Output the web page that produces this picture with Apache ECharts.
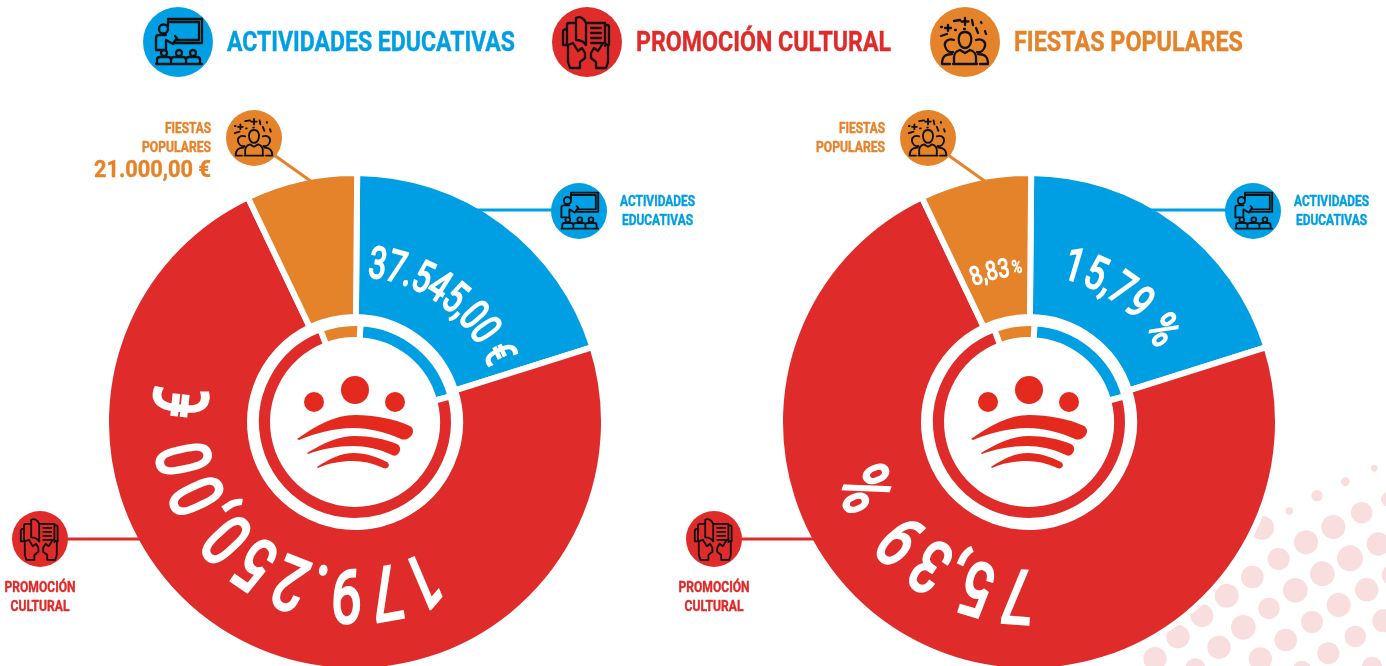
<!DOCTYPE html>
<html>
<head>
<meta charset="utf-8">
<style>html,body{margin:0;padding:0;background:#fff;overflow:hidden}#c{width:1386px;height:666px}</style>
<script src="https://cdn.jsdelivr.net/npm/echarts@6/dist/echarts.min.js"></script>
</head>
<body>
<div id="c"></div>
<script>
// ---- data ----
const categories = ['ACTIVIDADES EDUCATIVAS', 'PROMOCIÓN CULTURAL', 'FIESTAS POPULARES'];
const amounts = [37545, 179250, 21000];        // printed euro amounts
const percents = [15.79, 75.39, 8.83];         // printed percentages
// The artwork's wedges are not to scale with the printed numbers: these shares are read off the drawn wedges.
const drawnShares = [20.0, 72.78, 7.22];
const ringShares = [19.94, 73.48, 6.58];
const colors = ['#009FE3', '#DF2B2A', '#E5832A'];

// ---- layout ----
const R = 246, C = [[355, 422], [1029, 422]], FONT = 'Roboto';
const logoRed = '#E42A1E', START = 89.5, RING_START = 86.8;

const euro = v => v.toFixed(2).replace('.', ',').replace(/\B(?=(\d{3})+(?!\d))/g, '.') + ' €';
const pct = v => v.toFixed(2).replace('.', ',');
const euro0 = euro(amounts[0]), euro1 = euro(amounts[1]), euro2 = euro(amounts[2]);

const ctx = document.createElement('canvas').getContext('2d');
function width(s, f) { ctx.font = f; return ctx.measureText(s).width; }

function txt(s, x, y, size, color, align, fitW) {
  const f = '700 ' + size + 'px ' + FONT;
  const sx = fitW ? fitW / width(s, f) : 1;
  return { type: 'text', z: 20, x, y: y + size * 0.1 + 0.7, scaleX: sx, silent: true,
    style: { text: s, font: f, fill: color, stroke: color, lineWidth: 0.4, align, textAlign: align, verticalAlign: 'middle', textVerticalAlign: 'middle' } };
}

// Text set on an arc: tops outward, reading clockwise. a0/a1 = angle of first/last glyph centre (deg from 12 o'clock)
function arc(s, c, r, a0, a1, size, sx) {
  const f = '400 ' + size + 'px ' + FONT, chars = Array.from(s);
  const adv = chars.map(ch => width(ch, f));
  let pos = [], acc = 0;
  adv.forEach((w, i) => { pos.push(acc + w / 2); acc += w; });
  const first = pos[0], last = pos[pos.length - 1];
  const rr = r - size * 0.1;
  return chars.map((ch, i) => {
    if (ch === ' ') return null;
    const k = last > first ? (pos[i] - first) / (last - first) : 0;
    const t = (a0 + (a1 - a0) * k) * Math.PI / 180;
    return { type: 'text', z: 20, silent: true,
      x: c[0] + rr * Math.sin(t), y: c[1] - 1 - rr * Math.cos(t), rotation: -t, scaleX: sx,
      style: { text: ch, font: f, fill: '#fff', stroke: '#fff', lineWidth: size * 0.042, lineJoin: 'round',
        align: 'center', textAlign: 'center', verticalAlign: 'middle', textVerticalAlign: 'middle' } };
  }).filter(Boolean);
}

// ---- icons (drawn in a 70px box centred on 0,0) ----
const ICON = {
  teacher: 'M-10 -15V-23H24V1H-4M-8 -20H21V-2H-2' +
    'M-10 -13A4.5 4.5 0 1 0 -19 -13A4.5 4.5 0 1 0 -10 -13' +
    'M-12 8V-2L-5 2L-1 -4M-3 -6L-1 -4L-4 0M-12 -7H-19Q-22 -7 -22 -4V8H-12' +
    'M-11 11A3 3 0 1 0 -17 11A3 3 0 1 0 -11 11M4 11A3 3 0 1 0 -2 11A3 3 0 1 0 4 11M18 11A3 3 0 1 0 12 11A3 3 0 1 0 18 11' +
    'M-21 21V18Q-21 15 -18 15H-10Q-7 15 -7 18V21M-7 21V18Q-7 15 -4 15H5Q8 15 8 18V21M8 21V18Q8 15 11 15H19Q22 15 22 18V21' +
    'M-22 22H24',
  book: 'M-1 -19C-3 -24 -7 -26 -11 -24V-2C-7 -2 -3 0 -1 3V-19H18V4' +
    'M-11 -19H-18Q-20 -19 -20 -17V3M-20 -13Q-24 -13 -24 -10V3H-19M18 -17H20Q22 -17 22 -15V3' +
    'M4 -14H14M4 -9H14M4 -4H14M4 1H14' +
    'M-19 3L-14 1L-9 9L-5 6L-2 11V16L-7 20V26H-17L-19 20Z' +
    'M21 3L16 1L11 9L7 6L4 11V16L9 20V26H19L21 20Z',
  people: 'M0 -10C-6 -10 -7 -4 -6 0C-5 4 -3 6 0 6C3 6 5 4 6 0C7 -4 6 -10 0 -10Z' +
    'M-11 22V15C-11 11 -8 9 -5 8L0 11L5 8C8 9 11 11 11 15V22M-12 22H12' +
    'M-11 -2C-17 -4 -21 0 -20 4C-19 8 -16 11 -12 10M11 -2C17 -4 21 0 20 4C19 8 16 11 12 10' +
    'M-13 12C-19 12 -23 14 -23 22H-15M13 12C19 12 23 14 23 22H15' +
    'M-24 -6L-18 -8M-17 -17V-11M-20 -14H-14M-24 -15L-23 -15M-11 -21L-5 -22M-10 -12L-9 -12M0 -24V-17M-3.5 -20.5H3.5M-1 -13L0 -13M7 -22L8 -17M11 -14L13 -9M16 -20L16.5 -19M20 -11L21 -8'
};
const LOGO = [
  'M-58 18C-38 4 -20 -6 0 -6C20 -6 40 -2 55 5C59 7 59 13 55 16C52 19 48 19 46 18C30 11 15 7 -2 7C-20 7 -40 12 -56 19Z',
  'M-48 32C-32 22 -16 15 0 15C15 15 30 18 42 23C46 25 46 30 43 33C41 35 39 35 37 34C25 28 10 25 -2 25C-18 25 -34 28 -47 33Z',
  'M-38 46C-26 38 -14 32 -1 32C11 32 22 36 32 41C35 43 34 46 32 47C30 48 28 47 26 46C17 42 8 40 -2 40C-14 40 -26 42 -37 47Z'
];
// Graphic elements have no raw 'path' type, so the outlines are registered as shapes.
Object.keys(ICON).forEach(k => echarts.graphic.registerShape('icon_' + k, echarts.graphic.extendPath(ICON[k], {})));
LOGO.forEach((p, i) => echarts.graphic.registerShape('logo_' + i, echarts.graphic.extendPath(p, {})));

function icon(name, x, y, r, color) {
  const s = r / 35;
  return [
    { type: 'circle', z: 20, silent: true, shape: { cx: x, cy: y, r }, style: { fill: color } },
    { type: 'icon_' + name, z: 21, x, y, scaleX: s, scaleY: s, silent: true,
      style: { fill: null, stroke: '#111', lineWidth: 2.3, lineCap: 'round', lineJoin: 'round' } }
  ];
}
function line(x1, y1, x2, y2, color) {
  return { type: 'line', z: 15, silent: true, shape: { x1, y1, x2, y2 }, style: { stroke: color, lineWidth: 3 } };
}
function logo(c) {
  const y0 = c[1] - 1;
  return [[0, -31, 14], [-41, -19, 10], [40, -19, 10]].map(d => (
    { type: 'circle', z: 20, silent: true, shape: { cx: c[0] + d[0], cy: y0 + d[1], r: d[2] }, style: { fill: logoRed } }
  )).concat(LOGO.map((p, i) => (
    { type: 'logo_' + i, z: 20, x: c[0], y: y0, silent: true, style: { fill: logoRed } })));
}

// ---- halftone decoration, bottom right ----
const dots = [[733,25,10],[646,65,13],[561,107,17],[478,153,11],[775,118,22],[695,158,32],[610,201,36],[528,247,36],[396,203,36],[320,258,25],[446,297,33],[660,295,39],[745,252,35],[577,341,37],[367,351,34],[290,407,36],[496,391,37],[785,345,30],[710,389,35],[626,435,36],[417,445,32],[216,467,34],[340,502,37],[546,486,33],[762,482,35],[144,530,35],[467,540,34],[676,529,32],[267,562,35],[75,596,35],[595,580,33],[391,597,35],[196,625,30],[516,630,28],[726,620,30]];
const dotEls = dots.map(d => ({ type: 'circle', z: 0, silent: true,
  shape: { cx: 1130 + d[0] / 3, cy: 460 + d[1] / 3, r: d[2] / 3 }, style: { fill: '#F8DEDE' } }));

// ---- per-chart annotations ----
function callouts(dx) {
  return [
    line(470 + dx, 210, 555 + dx, 210, colors[0]),
    line(62 + dx, 539, 145 + dx, 539, colors[1]),
    line(274 + dx, 155, 312 + dx, 182, colors[2]),
    ...icon('teacher', 579 + dx, 211, 28, colors[0]),
    ...icon('book', 40 + dx, 539, 28, colors[1]),
    ...icon('people', 254 + dx, 138, 28, colors[2]),
    txt('ACTIVIDADES', 657.5 + dx, 200.5, 14, colors[0], 'center', 75),
    txt('EDUCATIVAS', 657.5 + dx, 219.5, 14, colors[0], 'center', 71),
    txt('PROMOCIÓN', 40 + dx, 586.5, 14, colors[1], 'center', 71),
    txt('CULTURAL', 40 + dx, 605.5, 14, colors[1], 'center', 59),
    txt('FIESTAS', 211 + dx, 127.5, 14, colors[2], 'right', 46),
    txt('POPULARES', 211 + dx, 146.5, 14, colors[2], 'right', 69)
  ];
}

const graphicEls = [
  ...dotEls,
  ...icon('teacher', 178, 42, 35, colors[0]),
  ...icon('book', 587, 42, 35, colors[1]),
  ...icon('people', 965, 42, 35, colors[2]),
  txt(categories[0], 227, 41, 27, colors[0], 'left', 288),
  txt(categories[1], 636, 41, 27, colors[1], 'left', 255),
  txt(categories[2], 1014, 41, 27, colors[2], 'left', 229),
  ...callouts(0), ...callouts(674),
  txt(euro2, 211, 167.5, 24, colors[2], 'right', 117),
  ...logo(C[0]), ...logo(C[1]),
  ...arc(euro0, C[0], 160, 8.3, 65, 44, 0.72),
  ...arc(euro1, C[0], 175, 157, 276, 74, 0.74),
  ...arc(pct(percents[0]) + ' %', C[1], 163, 16.4, 55.8, 46, 0.76),
  ...arc(pct(percents[1]) + ' %', C[1], 176, 184, 247.5, 74, 0.74),
  ...arc(pct(percents[2]), C[1], 155, -20, -9.5, 26, 0.8),
  ...arc('%', C[1], 155, -4.5, -4.5, 18, 0.8)
];

const toData = shares => categories.map((name, i) => ({ name, value: shares[i], itemStyle: { color: colors[i] } }));
function pie(c, radius, start, shares) {
  return { type: 'pie', center: c, radius, startAngle: start, clockwise: true, silent: true, animation: false, z: 2,
    label: { show: false }, labelLine: { show: false }, emphasis: { disabled: true },
    itemStyle: { borderColor: '#fff', borderWidth: 6 }, data: toData(shares) };
}

const chart = echarts.init(document.getElementById('c'), null, { renderer: 'canvas' });
chart.setOption({
  animation: false,
  backgroundColor: '#fff',
  series: [
    pie(C[0], [105, R + 3], START, drawnShares), pie(C[0], [82, 99], RING_START, ringShares),
    pie(C[1], [105, R + 3], START, drawnShares), pie(C[1], [82, 99], RING_START, ringShares)
  ],
  graphic: { elements: graphicEls }
});
</script>
</body>
</html>
